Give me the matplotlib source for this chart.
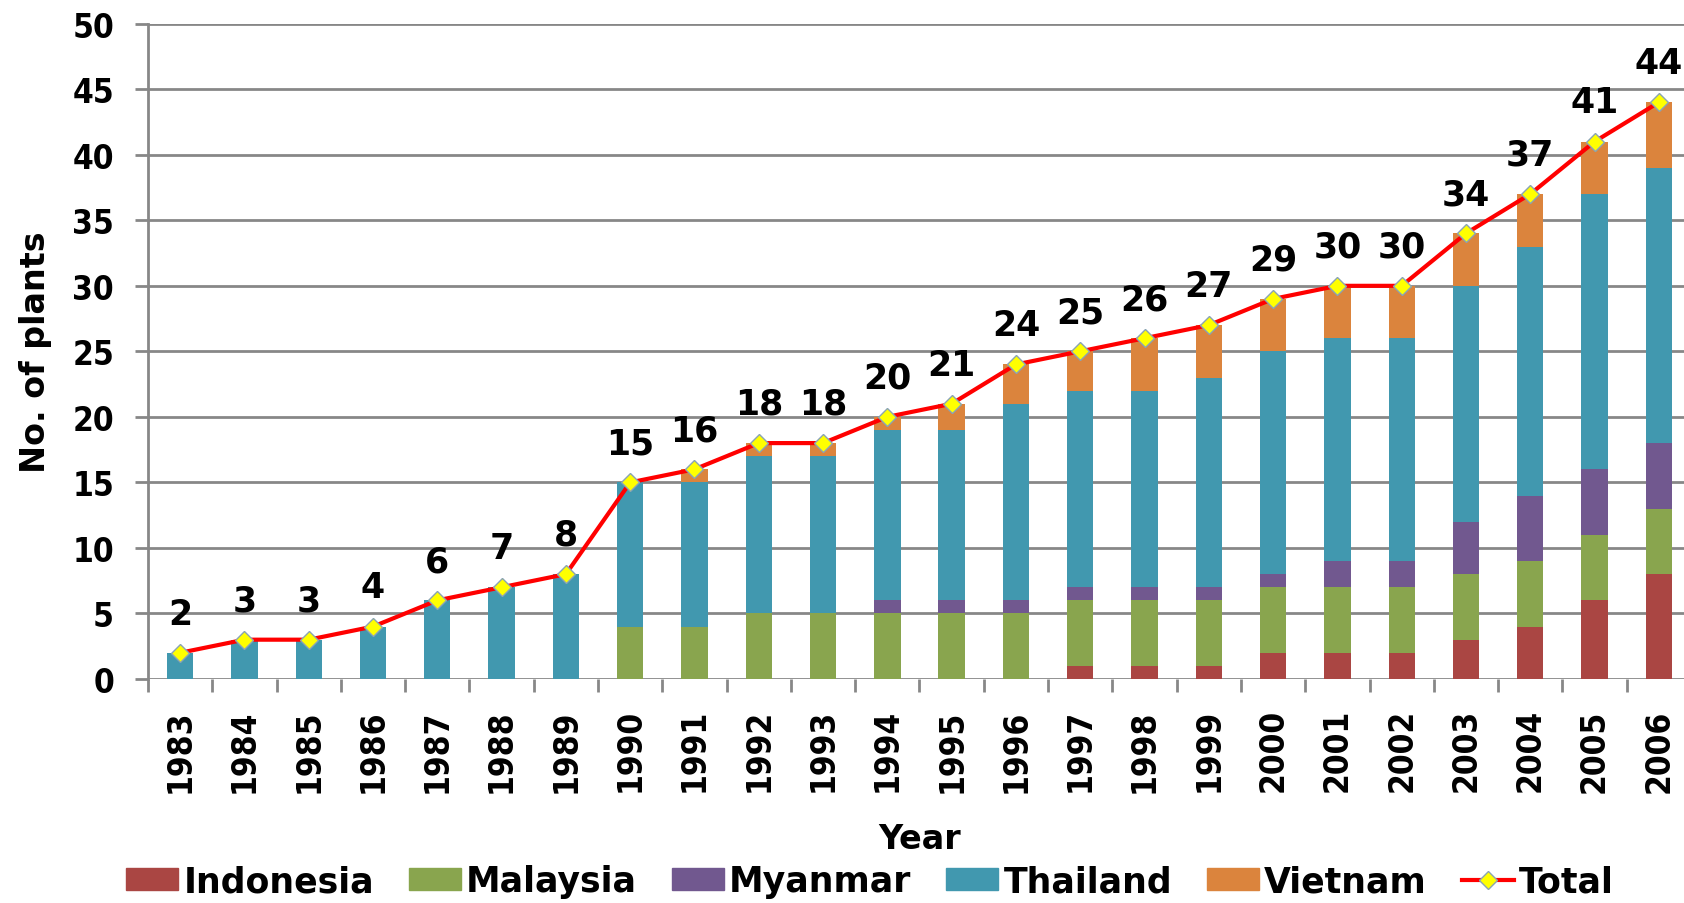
import matplotlib
matplotlib.use("Agg")
import matplotlib.pyplot as plt
import numpy as np
from matplotlib.patches import Patch
from matplotlib.lines import Line2D
from matplotlib import font_manager

plt.rcParams['font.family'] = ['DejaVu Sans']
plt.rcParams['font.weight'] = 'bold'

years = list(range(1983, 2007))
indonesia = [0, 0, 0, 0, 0, 0, 0, 0, 0, 0, 0, 0, 0, 0, 1, 1, 1, 2, 2, 2, 3, 4, 6, 8]
malaysia = [0, 0, 0, 0, 0, 0, 0, 4, 4, 5, 5, 5, 5, 5, 5, 5, 5, 5, 5, 5, 5, 5, 5, 5]
myanmar = [0, 0, 0, 0, 0, 0, 0, 0, 0, 0, 0, 1, 1, 1, 1, 1, 1, 1, 2, 2, 4, 5, 5, 5]
thailand = [2, 3, 3, 4, 6, 7, 8, 11, 11, 12, 12, 13, 13, 15, 15, 15, 16, 17, 17, 17, 18, 19, 21, 21]
vietnam = [0, 0, 0, 0, 0, 0, 0, 0, 1, 1, 1, 1, 2, 3, 3, 4, 4, 4, 4, 4, 4, 4, 4, 5]
total = [2, 3, 3, 4, 6, 7, 8, 15, 16, 18, 18, 20, 21, 24, 25, 26, 27, 29, 30, 30, 34, 37, 41, 44]

series = [("Indonesia", indonesia, "#AA4643"),
          ("Malaysia", malaysia, "#89A54E"),
          ("Myanmar", myanmar, "#71588F"),
          ("Thailand", thailand, "#4198AF"),
          ("Vietnam", vietnam, "#DB843D")]

# narrow bold face for the tick labels
cond = [f.fname for f in font_manager.fontManager.ttflist
        if f.name == 'DejaVu Sans' and 'Condensed-Bold' in f.fname]
if cond:
    tick_font = font_manager.FontProperties(fname=cond[0], size=24)
else:
    tick_font = font_manager.FontProperties(family='DejaVu Sans', weight='bold',
                                            stretch='condensed', size=24)

W, H = 1684, 904
fig = plt.figure(figsize=(W / 100, H / 100), dpi=100)
ax = fig.add_axes([148 / W, 224 / H, 1543 / W, 655.3 / H])

x = np.arange(len(years))
bottom = np.zeros(len(years))
for name, vals, col in series:
    ax.bar(x, vals, 0.41, bottom=bottom, color=col, zorder=2)
    bottom += np.array(vals)

ax.plot(x, total, color='red', lw=3, marker='D', ms=9, mfc='yellow',
        mec='#8aa4b4', mew=1, zorder=4)
for xi, t in zip(x, total):
    ax.annotate(str(t), (xi, t), xytext=(0, 16), textcoords='offset points',
                ha='center', va='bottom', fontsize=25, fontweight='bold',
                annotation_clip=False)

ax.set_ylim(0, 50)
ax.set_xlim(-0.5, len(years) - 0.5)
ax.set_yticks(np.arange(0, 51, 5))
ax.yaxis.grid(True, color='#878787', lw=2, zorder=0)
ax.set_axisbelow(True)
for s in ['top', 'right', 'bottom']:
    ax.spines[s].set_visible(False)
ax.spines['left'].set_color('#878787')
ax.spines['left'].set_linewidth(2)

ax.set_xticks(np.arange(-0.5, len(years), 1))
ax.set_xticklabels([])
ax.set_xticks(x, minor=True)
ax.set_xticklabels([str(y) for y in years], minor=True, rotation=90,
                   fontproperties=tick_font)
for lab in ax.get_yticklabels():
    lab.set_fontproperties(tick_font)
ax.tick_params(axis='x', which='major', length=9.4, width=2, color='#878787')
ax.tick_params(axis='x', which='minor', length=0, pad=21)
ax.tick_params(axis='y', length=9.4, width=2, color='#878787', pad=15)

ax.set_ylabel("No. of plants", fontsize=24, fontweight='bold')
ax.yaxis.set_label_coords(-0.062, 0.5)
ax.set_xlabel("Year", fontsize=24, fontweight='bold')
ax.xaxis.set_label_coords(0.5, -0.218)

handles = [Patch(color=c, label=n) for n, v, c in series]
handles.append(Line2D([], [], color='red', lw=3, marker='D', ms=9, mfc='yellow',
                      mec='#8aa4b4', mew=1, label='Total'))
fig.legend(handles=handles, loc='center', bbox_to_anchor=(0.5166, 0.024),
           ncol=6, frameon=False, fontsize=25, handlelength=1.5,
           handleheight=0.6, handletextpad=0.15, columnspacing=1.0)

fig.savefig("out.png", dpi=100)
